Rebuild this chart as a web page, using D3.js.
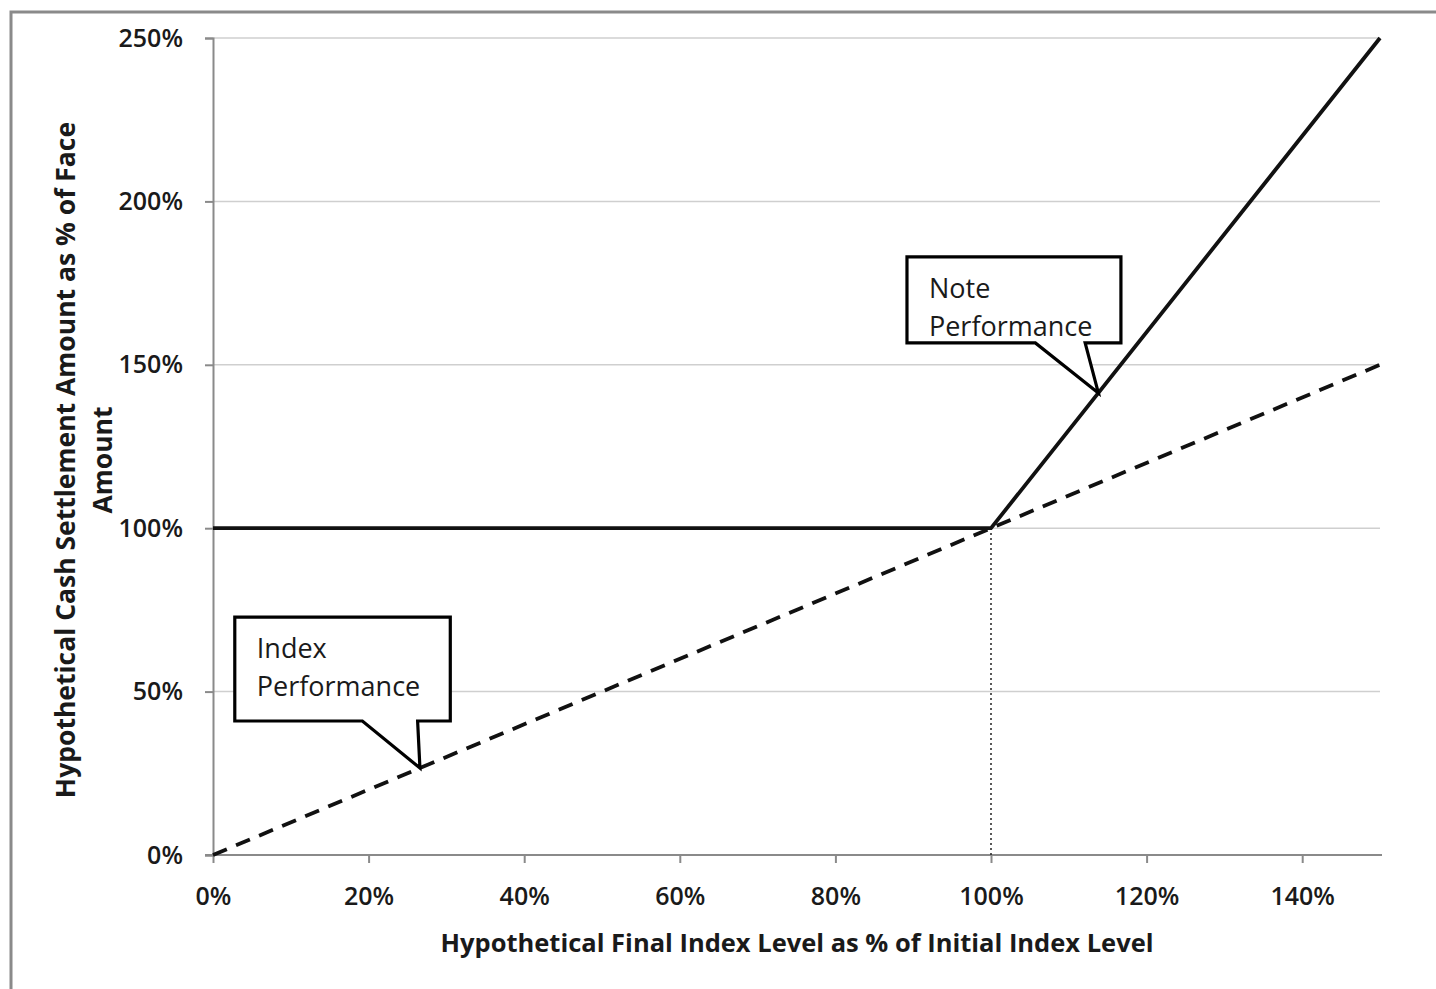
<!DOCTYPE html>
<html>
<head>
<meta charset="utf-8">
<script src="https://cdn.jsdelivr.net/npm/d3@7"></script>
<style>
  body { margin: 0; background: #fff; }
  text { font-family: "Open Sans", "DejaVu Sans", sans-serif; fill: #1a1a1a; }
</style>
</head>
<body>
<div id="chart"></div>
<script>

// data
var xTicks = [0, 20, 40, 60, 80, 100, 120, 140];
var yTicks = [0, 50, 100, 150, 200, 250];
var noteX = [0, 100, 150];
var noteY = [100, 100, 250];
var indexX = [0, 150];
var indexY = [0, 150];
var strikeLevel = 100;
var xTitle = "Hypothetical Final Index Level as % of Initial Index Level";
var yTitle = ["Hypothetical Cash Settlement Amount as % of Face", "Amount"];
var noteLabel = ["Note", "Performance"];
var indexLabel = ["Index", "Performance"];

var wd = 1436, ht = 989;

var x = d3.scaleLinear().domain([0, 150]).range([213, 1380]);
var y = d3.scaleLinear().domain([0, 250]).range([855, 38]);

var svg = d3.select('#chart')
	.append("svg")
	.attr("width", wd)
	.attr("height", ht);

// outer frame (only top + left visible in the picture)
svg.append('path')
	.attr('d', 'M11,' + (ht) + ' V12 H' + wd)
	.attr('fill', 'none')
	.attr('stroke', '#8a8a8a')
	.attr('stroke-width', 3);

// gridlines
svg.selectAll('.grid')
	.data(yTicks.filter(function (d) { return d > 0; }))
	.enter()
	.append('line')
	.attr('class', 'grid')
	.attr('x1', x(0))
	.attr('x2', x(150))
	.attr('y1', function (d) { return y(d); })
	.attr('y2', function (d) { return y(d); })
	.attr('stroke', '#cfcfcf')
	.attr('stroke-width', 1.5);

// y axis
var yAxis = svg.append('g')
	.attr('transform', 'translate(' + x(0) + ',0)')
	.call(d3.axisLeft(y).tickValues(yTicks).tickSize(8).tickPadding(22)
		.tickFormat(function (d) { return d + '%'; }));
yAxis.select('.domain').attr('stroke', '#8a8a8a').attr('stroke-width', 2);
yAxis.selectAll('.tick line').attr('stroke', '#8a8a8a').attr('stroke-width', 2);
yAxis.selectAll('.tick text')
	.style('font-size', '25px')
	.style('font-weight', 600)
	.style('font-family', '"Open Sans", sans-serif')
	.attr('fill', '#222');

// x axis
var xAxis = svg.append('g')
	.attr('transform', 'translate(0,' + y(0) + ')')
	.call(d3.axisBottom(x).tickValues(xTicks).tickSize(8).tickPadding(24)
		.tickFormat(function (d) { return d + '%'; }));
xAxis.select('.domain')
	.attr('d', 'M' + (x(0) - 8) + ',0H' + (x(150) + 2))
	.attr('stroke', '#8a8a8a').attr('stroke-width', 2);
xAxis.selectAll('.tick line').attr('stroke', '#8a8a8a').attr('stroke-width', 2);
xAxis.selectAll('.tick text')
	.style('font-size', '25px')
	.style('font-weight', 600)
	.style('font-family', '"Open Sans", sans-serif')
	.attr('fill', '#222');

// titles
svg.append('text')
	.attr('x', 797)
	.attr('y', 952)
	.attr('text-anchor', 'middle')
	.style('font-size', '25.5px')
	.style('font-weight', 700)
	.text(xTitle);

svg.selectAll('.ytitle')
	.data(yTitle)
	.enter()
	.append('text')
	.attr('class', 'ytitle')
	.attr('transform', function (d, i) { return 'translate(' + (75 + i * 37) + ',460) rotate(-90)'; })
	.attr('text-anchor', 'middle')
	.style('font-size', '26.5px')
	.style('font-weight', 700)
	.text(function (d) { return d; });

// strike marker (dotted vertical)
svg.append('line')
	.attr('x1', x(strikeLevel)).attr('x2', x(strikeLevel))
	.attr('y1', y(0)).attr('y2', y(strikeLevel))
	.attr('stroke', '#222')
	.attr('stroke-width', 1.5)
	.attr('stroke-dasharray', '2,3');

var line = d3.line()
	.x(function (d) { return x(d[0]); })
	.y(function (d) { return y(d[1]); });

// index performance (dashed)
svg.append('path')
	.datum(d3.zip(indexX, indexY))
	.attr('d', line)
	.attr('fill', 'none')
	.attr('stroke', '#111')
	.attr('stroke-width', 3.8)
	.attr('stroke-dasharray', '15,10');

// note performance (solid)
svg.append('path')
	.datum(d3.zip(noteX, noteY))
	.attr('d', line)
	.attr('fill', 'none')
	.attr('stroke', '#111')
	.attr('stroke-width', 3.8);

// callouts
function callout(lines, box, tipX, tipY, baseA, baseB) {
	var g = svg.append('g');
	var x0 = x(box[0]), x1 = x(box[1]), y0 = y(box[2]), y1 = y(box[3]);
	var bA = x(baseA), bB = x(baseB);
	g.append('path')
		.attr('d', 'M' + x0 + ',' + y0 + 'H' + x1 + 'V' + y1 + 'H' + bB +
			'L' + x(tipX) + ',' + y(tipY) + 'L' + bA + ',' + y1 + 'H' + x0 + 'Z')
		.attr('fill', '#fff')
		.attr('stroke', '#000')
		.attr('stroke-width', 3.2)
		.attr('stroke-linejoin', 'miter');
	g.selectAll('text')
		.data(lines)
		.enter()
		.append('text')
		.attr('x', x0 + 22)
		.attr('y', function (d, i) { return y0 + 41 + i * 38; })
		.style('font-size', '27px')
		.style('font-weight', 500)
		.text(function (d) { return d; });
}

callout(noteLabel, [89.2, 116.7, 183, 156.7], 113.8, 100 + 3 * 13.8, 105.7, 112.1);
callout(indexLabel, [2.8, 30.5, 72.8, 41], 26.6, 26.6, 19.2, 26.3);

</script>
</body>
</html>
